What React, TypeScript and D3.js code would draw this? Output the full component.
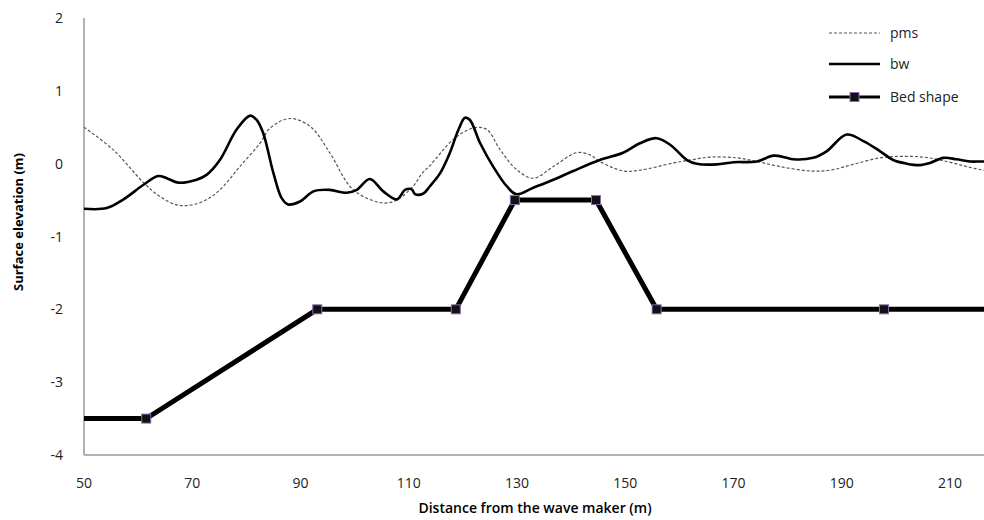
import * as d3 from "d3";
import React, { useRef, useEffect } from "react";

const WIDTH = 984;
const HEIGHT = 520;

// x positions (m) and surface elevation (m)
const pmsX = [50, 55.4, 61, 64, 67.1, 69.6, 72.5, 75.1, 78.8, 82.5, 84.4, 88, 91.8, 95.4, 99.1, 101.6, 105.3, 107.8, 110.8, 112.5, 114, 118.2, 121.9, 124.4, 126.9, 129.9, 133, 136.7, 141, 143.5, 145.3, 149.6, 152.7, 158.9, 162, 165.7, 170.6, 174.3, 178.6, 184.1, 187.8, 192.1, 197.1, 200.8, 205.1, 209.4, 213.1, 216.2, 220];
const pmsY = [0.5, 0.19, -0.26, -0.45, -0.565, -0.57, -0.5, -0.36, -0.04, 0.28, 0.49, 0.62, 0.51, 0.15, -0.31, -0.45, -0.54, -0.5, -0.31, -0.13, -0.02, 0.33, 0.49, 0.47, 0.19, -0.08, -0.2, -0.04, 0.15, 0.12, 0.03, -0.1, -0.09, 0.01, 0.05, 0.09, 0.08, 0.03, -0.04, -0.1, -0.09, -0.01, 0.08, 0.1, 0.09, 0.03, -0.04, -0.09, -0.12];

const bwX = [50, 54.2, 57.3, 61, 63.7, 65.3, 67.4, 70.8, 72.7, 75.1, 78.2, 80.7, 81.9, 83.1, 85, 86.5, 87.7, 89.9, 92.4, 95.4, 98.5, 100.4, 102.8, 105.3, 107.8, 109.3, 110.5, 111.2, 112.7, 113.9, 115.8, 117.6, 119.2, 120.4, 121.3, 123.2, 125.6, 128.1, 129.9, 133, 136.7, 140.4, 145.3, 149.6, 152.7, 155.8, 158.3, 161.4, 163.2, 166.9, 170, 174.3, 177.4, 179.8, 181, 184.7, 187.2, 190.9, 194, 197.1, 199.5, 202, 204.5, 206.3, 208.8, 211.2, 213.7, 216.2, 220];
const bwY = [-0.62, -0.61, -0.49, -0.29, -0.17, -0.2, -0.26, -0.22, -0.15, 0.05, 0.47, 0.66, 0.6, 0.42, -0.13, -0.47, -0.56, -0.52, -0.38, -0.36, -0.4, -0.36, -0.21, -0.38, -0.49, -0.36, -0.35, -0.42, -0.41, -0.31, -0.13, 0.15, 0.47, 0.63, 0.6, 0.28, -0.04, -0.31, -0.42, -0.33, -0.22, -0.1, 0.05, 0.15, 0.28, 0.35, 0.26, 0.05, 0, -0.01, 0.02, 0.03, 0.11, 0.08, 0.06, 0.08, 0.17, 0.4, 0.31, 0.17, 0.05, 0, -0.02, 0.01, 0.08, 0.06, 0.03, 0.03, 0.02];

const bedX = [50, 61.5, 93.1, 118.7, 129.6, 144.6, 155.8, 197.8, 220];
const bedY = [-3.5, -3.5, -2, -2, -0.5, -0.5, -2, -2, -2];
const bedMarker = [false, true, true, true, true, true, true, true, false];

const xTicks = [50, 70, 90, 110, 130, 150, 170, 190, 210];
const yTicks = [2, 1, 0, -1, -2, -3, -4];

const legendItems = ["pms", "bw", "Bed shape"];

const FONT = "'Open Sans', 'Noto Sans', sans-serif";

export default function App() {
  const svgRef = useRef<SVGSVGElement>(null);

  useEffect(() => {
    const svg = d3.select(svgRef.current);
    svg.selectAll("*").remove();

    const x = d3.scaleLinear().domain([50, 220]).range([84, 84 + 170 * 5.4125]);
    const y = d3.scaleLinear().domain([-4, 2]).range([455, 18]);

    // axes
    svg.append("line").attr("x1", 84).attr("x2", 84).attr("y1", y(2)).attr("y2", y(-4)).attr("stroke", "#999").attr("stroke-width", 1.5);
    svg.append("line").attr("x1", 84).attr("x2", WIDTH).attr("y1", y(-4)).attr("y2", y(-4)).attr("stroke", "#999").attr("stroke-width", 1.5);

    svg
      .append("g")
      .selectAll("text")
      .data(yTicks)
      .join("text")
      .attr("x", 63)
      .attr("y", (d) => y(d) + 5)
      .attr("text-anchor", "end")
      .attr("font-family", FONT)
      .attr("font-size", 14)
      .attr("fill", "#222")
      .text((d) => d);

    svg
      .append("g")
      .selectAll("text")
      .data(xTicks)
      .join("text")
      .attr("x", (d) => x(d))
      .attr("y", 488)
      .attr("text-anchor", "middle")
      .attr("font-family", FONT)
      .attr("font-size", 14)
      .attr("fill", "#222")
      .text((d) => d);

    svg
      .append("text")
      .attr("x", 535)
      .attr("y", 513)
      .attr("text-anchor", "middle")
      .attr("font-family", FONT)
      .attr("font-size", 14)
      .attr("font-weight", 600)
      .text("Distance  from the wave maker (m)");

    svg
      .append("text")
      .attr("transform", `translate(23,222) rotate(-90)`)
      .attr("text-anchor", "middle")
      .attr("font-family", FONT)
      .attr("font-size", 13)
      .attr("font-weight", "bold")
      .text("Surface elevation (m)");

    const line = d3
      .line<[number, number]>()
      .x((d) => x(d[0]))
      .y((d) => y(d[1]))
      .curve(d3.curveCatmullRom);

    const pms = pmsX.map((v, i) => [v, pmsY[i]] as [number, number]);
    const bw = bwX.map((v, i) => [v, bwY[i]] as [number, number]);
    const bed = bedX.map((v, i) => [v, bedY[i]] as [number, number]);

    svg.append("path").datum(pms).attr("fill", "none").attr("stroke", "#555").attr("stroke-width", 1.2).attr("stroke-dasharray", "3,2").attr("d", line);
    svg.append("path").datum(bw).attr("fill", "none").attr("stroke", "#000").attr("stroke-width", 2.6).attr("stroke-linejoin", "round").attr("d", line);

    const bedLine = d3
      .line<[number, number]>()
      .x((d) => x(d[0]))
      .y((d) => y(d[1]));
    svg.append("path").datum(bed).attr("fill", "none").attr("stroke", "#000").attr("stroke-width", 5).attr("d", bedLine);

    svg
      .append("g")
      .selectAll("rect")
      .data(bed.filter((d, i) => bedMarker[i]))
      .join("rect")
      .attr("x", (d) => x(d[0]) - 4.5)
      .attr("y", (d) => y(d[1]) - 4.5)
      .attr("width", 9)
      .attr("height", 9)
      .attr("fill", "#111")
      .attr("stroke", "#8a6bb0")
      .attr("stroke-width", 1);

    // legend
    const lg = svg.append("g");
    const rows = [33, 64, 97];
    legendItems.forEach((name, i) => {
      const ly = rows[i];
      const l = lg.append("line").attr("x1", 829).attr("x2", 880).attr("y1", ly).attr("y2", ly).attr("stroke", i === 0 ? "#555" : "#000");
      if (i === 0) l.attr("stroke-width", 1.2).attr("stroke-dasharray", "3,2");
      if (i === 1) l.attr("stroke-width", 2.6);
      if (i === 2) {
        l.attr("stroke-width", 3);
        lg.append("rect").attr("x", 850).attr("y", ly - 4.5).attr("width", 9).attr("height", 9).attr("fill", "#111").attr("stroke", "#8a6bb0");
      }
      lg.append("text")
        .attr("x", 890)
        .attr("y", ly + 5)
        .attr("font-family", FONT)
        .attr("font-size", 14)
        .attr("fill", "#222")
        .text(name);
    });
  }, []);

  return (
    <svg
      ref={svgRef}
      width={WIDTH}
      height={HEIGHT}
      style={{ position: "absolute", left: 0, top: 0, background: "#fff" }}
    />
  );
}
